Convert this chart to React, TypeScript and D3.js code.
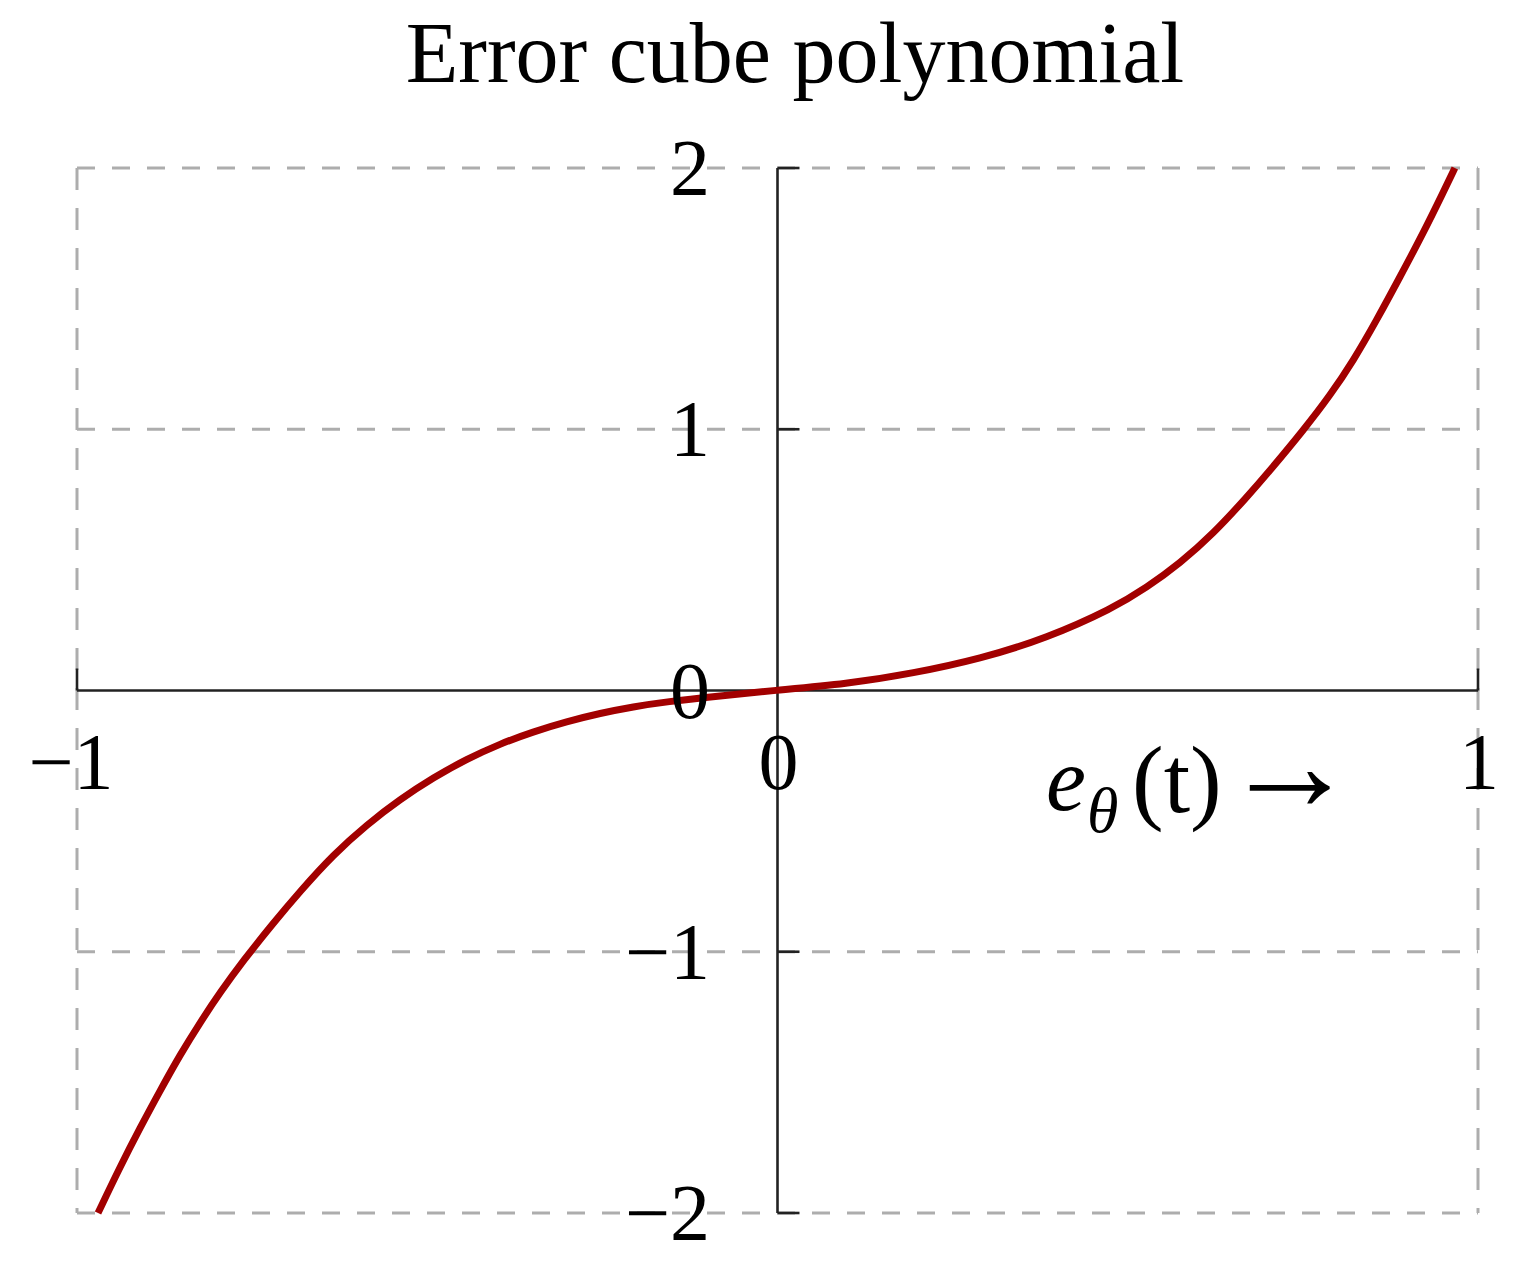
import { useEffect, useRef } from 'react'
import * as d3 from 'd3'

// curve samples
const errX = [-0.97, -0.939, -0.91, -0.881, -0.853, -0.824, -0.796, -0.763, -0.72, -0.682, -0.634, -0.586, -0.539, -0.491, -0.444, -0.396, -0.349, -0.301, -0.253, -0.206, -0.158, -0.087, -0.006, 0.099, 0.194, 0.289, 0.384, 0.479, 0.527, 0.575, 0.622, 0.67, 0.703, 0.751, 0.789, 0.822, 0.855, 0.889, 0.922, 0.95, 0.967]
const errY = [-2.0, -1.826, -1.674, -1.53, -1.395, -1.27, -1.157, -1.035, -0.891, -0.77, -0.628, -0.513, -0.417, -0.333, -0.263, -0.204, -0.158, -0.119, -0.087, -0.062, -0.043, -0.022, 0.0, 0.025, 0.066, 0.121, 0.2, 0.315, 0.394, 0.488, 0.6, 0.74, 0.842, 0.997, 1.13, 1.262, 1.416, 1.585, 1.752, 1.905, 2.0]

const yTicks = [2, 1, 0, -1, -2]
const yTickLabels = ['2', '1', '0', '\u22121', '\u22122']
const xTicks = [-1, 0, 1]
const xTickLabels = ['\u22121', '0', '1']
const gridY = [2, 1, -1, -2]
const gridX = [-1, 1]

const title = 'Error cube polynomial'

export default function App() {
  const svgRef = useRef<SVGSVGElement>(null)
  const width = 1513
  const height = 1273

  useEffect(() => {
    if (!svgRef.current) return
    const svg = d3.select(svgRef.current)
    svg.selectAll('*').remove()

    const font = '"Liberation Serif", "Times New Roman", serif'
    const x = d3.scaleLinear().domain([-1, 1]).range([77, 1478])
    const y = d3.scaleLinear().domain([-2, 2]).range([1213, 168])

    // dashed grid
    svg.append('g')
      .selectAll('line')
      .data(gridY)
      .enter()
      .append('line')
      .attr('x1', x(-1))
      .attr('x2', x(1))
      .attr('y1', d => y(d))
      .attr('y2', d => y(d))
      .attr('stroke', '#adadad')
      .attr('stroke-width', 3)
      .attr('stroke-dasharray', '18,17')

    svg.append('g')
      .selectAll('line')
      .data(gridX)
      .enter()
      .append('line')
      .attr('x1', d => x(d))
      .attr('x2', d => x(d))
      .attr('y1', y(2))
      .attr('y2', y(-2))
      .attr('stroke', '#adadad')
      .attr('stroke-width', 3)
      .attr('stroke-dasharray', '22,18')

    // axes through the origin
    const axes = svg.append('g').attr('stroke', '#222').attr('stroke-width', 2.6)
    axes.append('line')
      .attr('x1', x(-1)).attr('x2', x(1))
      .attr('y1', y(0)).attr('y2', y(0))
    axes.append('line')
      .attr('x1', x(0)).attr('x2', x(0))
      .attr('y1', y(2)).attr('y2', y(-2))

    axes.selectAll('line.ytick')
      .data(yTicks.filter(d => d !== 0))
      .enter()
      .append('line')
      .attr('class', 'ytick')
      .attr('x1', x(0)).attr('x2', x(0) + 22)
      .attr('y1', d => y(d)).attr('y2', d => y(d))

    axes.selectAll('line.xtick')
      .data(xTicks.filter(d => d !== 0))
      .enter()
      .append('line')
      .attr('class', 'xtick')
      .attr('x1', d => x(d)).attr('x2', d => x(d))
      .attr('y1', y(0)).attr('y2', y(0) - 22)

    // the curve (B-spline through the read samples to smooth reading noise)
    const line = d3.line<number>()
      .x(d => x(d))
      .y((_, i) => y(errY[i]))
      .curve(d3.curveBasis)

    svg.append('path')
      .datum(errX)
      .attr('d', line)
      .attr('fill', 'none')
      .attr('stroke', '#a20000')
      .attr('stroke-width', 7)
      .attr('stroke-linejoin', 'round')

    // tick labels
    svg.append('g')
      .selectAll('text')
      .data(yTicks)
      .enter()
      .append('text')
      .attr('x', 710)
      .attr('y', d => y(d) + 27)
      .attr('text-anchor', 'end')
      .style('font-family', font)
      .style('font-size', '80px')
      .style('fill', '#000')
      .text((_, i) => yTickLabels[i])

    svg.append('g')
      .selectAll('text')
      .data(xTicks)
      .enter()
      .append('text')
      .attr('x', d => x(d) + (d < 0 ? -6 : 1))
      .attr('y', 789)
      .attr('text-anchor', 'middle')
      .style('font-family', font)
      .style('font-size', '80px')
      .style('fill', '#000')
      .text((_, i) => xTickLabels[i])

    // axis label e_theta(t) ->
    const lab = svg.append('g').style('font-family', font).style('fill', '#000')
    lab.append('text')
      .attr('x', 1046).attr('y', 810)
      .style('font-size', '90px').style('font-style', 'italic')
      .text('e')
    lab.append('text')
      .attr('x', 1087).attr('y', 832)
      .style('font-size', '64px').style('font-style', 'italic')
      .text('\u03b8')
    lab.append('text')
      .attr('x', 1132).attr('y', 812)
      .style('font-size', '95px')
      .text('(t)')
    lab.append('text')
      .attr('x', 1222).attr('y', 810)
      .style('font-size', '135px')
      .text('\u2192')

    // title
    svg.append('text')
      .attr('x', 795)
      .attr('y', 82)
      .attr('text-anchor', 'middle')
      .style('font-family', font)
      .style('font-size', '86px')
      .style('fill', '#000')
      .text(title)
  }, [])

  return (
    <svg
      ref={svgRef}
      width={width}
      height={height}
      style={{ position: 'absolute', left: 0, top: 0, background: '#fff' }}
    />
  )
}
